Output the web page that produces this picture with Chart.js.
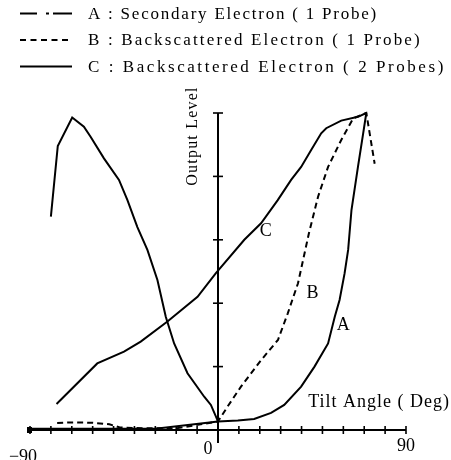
<!DOCTYPE html>
<html>
<head>
<meta charset="utf-8">
<script src="https://cdn.jsdelivr.net/npm/chart.js@4.4.1/dist/chart.umd.min.js"></script>
<style>
  html, body { margin: 0; padding: 0; background: #fff; }
  #wrap { width: 451px; height: 460px; }
</style>
</head>
<body>
<div id="wrap"><canvas id="c" width="451" height="460"></canvas></div>
<script>
// Tilt angle (deg) vs. detector output level (% of maximum)
const angleTicks = [-90, -80, -70, -60, -50, -40, -30, -20, -10, 0, 10, 20, 30, 40, 50, 60, 70, 80, 90];
const angleLabels = { '-90': '\u221290', '0': '0', '90': '90' };
const levelTicks = [20, 40, 60, 80, 100];

// A : secondary electron, one probe
const angleA = [-90, -60, -30, 0, 9.5, 17.3, 25.4, 31.7, 39.8, 46.2, 52.7, 55.9, 58.2, 60.6, 62.3, 63.9, 67, 69.5, 71];
const levelA = [0.4, 0.4, 0.4, 2.7, 3, 3.5, 5.4, 7.9, 13.7, 20, 27.3, 35.7, 41, 49.4, 56.8, 69.4, 83, 93.6, 100];

// B : backscattered electron, one probe
const angleB = [-77, -70, -60, -52, -47, -40, -20, 0, 4.6, 11, 20.6, 28.7, 33.4, 38.3, 43.5, 47.9, 52.7, 59, 64.7, 71, 75];
const levelB = [2.2, 2.4, 2.3, 1.8, 0.8, 0.6, 0.5, 2.7, 7.4, 13.7, 22, 28.4, 36.8, 46.3, 62, 73.6, 83, 91.5, 98.3, 100, 84];

// C : backscattered electron, two probes
const angleC = [-77.3, -57.8, -45, -37, -24.2, -9.8, -1, 12.6, 20.6, 28.6, 35, 39.8, 44.6, 49.4, 51.8, 59, 67, 71];
const levelC = [8.2, 21, 24.7, 27.9, 34.2, 42, 49.5, 60, 65.2, 72.5, 78.9, 83, 88.3, 93.6, 95.2, 97.6, 98.8, 100];

// second two-probe trace, negative tilt side
const angleC2 = [-80, -76.7, -69.8, -64.2, -61, -54.6, -47.4, -43.4, -38.6, -33.8, -29, -25, -21, -14.6, -6.6, -3.4, 0];
const levelC2 = [67.3, 89.6, 98.6, 95.7, 92.5, 85.7, 78.9, 72.6, 64, 56.8, 47.3, 35.7, 27.3, 17.9, 10.5, 7.9, 2.7];

const legendA = 'A : Secondary Electron ( 1 Probe)';
const legendB = 'B : Backscattered Electron ( 1 Probe)';
const legendC = 'C : Backscattered Electron ( 2 Probes)';
const axisTitleX = 'Tilt Angle ( Deg)';
const axisTitleY = 'Output Level';
const curveTags = [{ text: 'C', x: 22.9, y: 62.6 }, { text: 'B', x: 45.2, y: 43.1 }, { text: 'A', x: 60, y: 32.9 }];

const pts = (xs, ys) => xs.map((x, i) => ({ x: x, y: ys[i] }));
const SERIF = '"Liberation Serif", "Times New Roman", serif';

function line(ctx, x1, y1, x2, y2) {
  ctx.beginPath(); ctx.moveTo(x1, y1); ctx.lineTo(x2, y2); ctx.stroke();
}

// Crossing axes with cross-shaped tick marks, tick numbers, titles and curve tags
const crossAxes = {
  id: 'crossAxes',
  afterDatasetsDraw(chart) {
    const ctx = chart.ctx;
    const xs = chart.scales.x, ys = chart.scales.y;
    const y0 = ys.getPixelForValue(0), x0 = xs.getPixelForValue(0);
    ctx.save();
    ctx.strokeStyle = '#000'; ctx.fillStyle = '#000';
    ctx.lineWidth = 2;
    // horizontal axis
    line(ctx, xs.getPixelForValue(-90), y0, xs.getPixelForValue(90), y0);
    ctx.fillRect(xs.getPixelForValue(-90) - 3, y0 - 3, 5, 6);
    // vertical axis
    line(ctx, x0, ys.getPixelForValue(100), x0, y0 + 13);
    ctx.lineWidth = 1.6;
    angleTicks.forEach(a => {
      if (a === 0) return;
      const px = xs.getPixelForValue(a);
      line(ctx, px, y0 - 4, px, y0 + 4);
    });
    levelTicks.forEach(v => {
      const py = ys.getPixelForValue(v);
      line(ctx, x0 - 5, py, x0 + 5, py);
    });
    // tick numbers
    ctx.font = '18px ' + SERIF;
    ctx.textAlign = 'center'; ctx.textBaseline = 'middle';
    const offs = { '-90': [-7, 27], '0': [-10, 19], '90': [0, 16] };
    Object.keys(angleLabels).forEach(k => {
      const px = xs.getPixelForValue(Number(k));
      ctx.fillText(angleLabels[k], px + offs[k][0], y0 + offs[k][1]);
    });
    // axis titles
    ctx.letterSpacing = '1px';
    ctx.textAlign = 'right';
    ctx.fillText(axisTitleX, chart.width - 1, y0 - 28);
    ctx.save();
    ctx.font = '16px ' + SERIF;
    ctx.letterSpacing = '1.2px';
    ctx.translate(x0 - 25, ys.getPixelForValue(100) + 23);
    ctx.rotate(-Math.PI / 2);
    ctx.textAlign = 'center';
    ctx.fillText(axisTitleY, 0, 0);
    ctx.restore();
    // curve tags
    ctx.letterSpacing = '0px';
    ctx.textAlign = 'center';
    ctx.font = '18px ' + SERIF;
    curveTags.forEach(t => ctx.fillText(t.text, xs.getPixelForValue(t.x), ys.getPixelForValue(t.y)));
    ctx.restore();
  }
};

// Key listing the three traces, one per row, above the plot;
// each row's text is spread to its set width
const lineKey = {
  id: 'lineKey',
  afterDraw(chart) {
    const ctx = chart.ctx;
    ctx.save();
    ctx.strokeStyle = '#000'; ctx.fillStyle = '#000';
    ctx.lineWidth = 2.2;
    ctx.font = '17px ' + SERIF;
    ctx.textAlign = 'left'; ctx.textBaseline = 'middle';
    let row = 0;
    chart.data.datasets.forEach(ds => {
      if (!ds.keyText) return;
      const y = 13.5 + row * 26.5;
      ctx.setLineDash(ds.keyDash);
      line(ctx, 20, y, 72, y);
      ctx.setLineDash([]);
      ctx.letterSpacing = '0px';
      const natural = ctx.measureText(ds.keyText).width;
      const spread = Math.max(0, (ds.keyWidth - natural) / ds.keyText.length);
      ctx.letterSpacing = spread.toFixed(2) + 'px';
      ctx.fillText(ds.keyText, 88, y + 1);
      row++;
    });
    ctx.restore();
  }
};

const base = { borderColor: '#000', backgroundColor: '#000', borderWidth: 2, pointRadius: 0, tension: 0, fill: false, clip: 6 };

new Chart(document.getElementById('c'), {
  type: 'line',
  data: {
    datasets: [
      Object.assign({}, base, { label: 'A', data: pts(angleA, levelA), keyText: legendA, keyWidth: 290, keyDash: [17, 9, 3, 4, 19] }),
      Object.assign({}, base, { label: 'B', data: pts(angleB, levelB), borderDash: [6, 4], keyText: legendB, keyWidth: 334, keyDash: [6, 4.5] }),
      Object.assign({}, base, { label: 'C', data: pts(angleC, levelC), keyText: legendC, keyWidth: 358, keyDash: [] }),
      Object.assign({}, base, { label: 'C (negative tilt)', data: pts(angleC2, levelC2) })
    ]
  },
  options: {
    responsive: false,
    animation: false,
    layout: { padding: { left: 30, right: 45, top: 113, bottom: 30 } },
    scales: {
      x: { type: 'linear', min: -90, max: 90, display: false },
      y: { type: 'linear', min: 0, max: 100, display: false }
    },
    plugins: { legend: { display: false }, tooltip: { enabled: false } }
  },
  plugins: [crossAxes, lineKey]
});
</script>
</body>
</html>
